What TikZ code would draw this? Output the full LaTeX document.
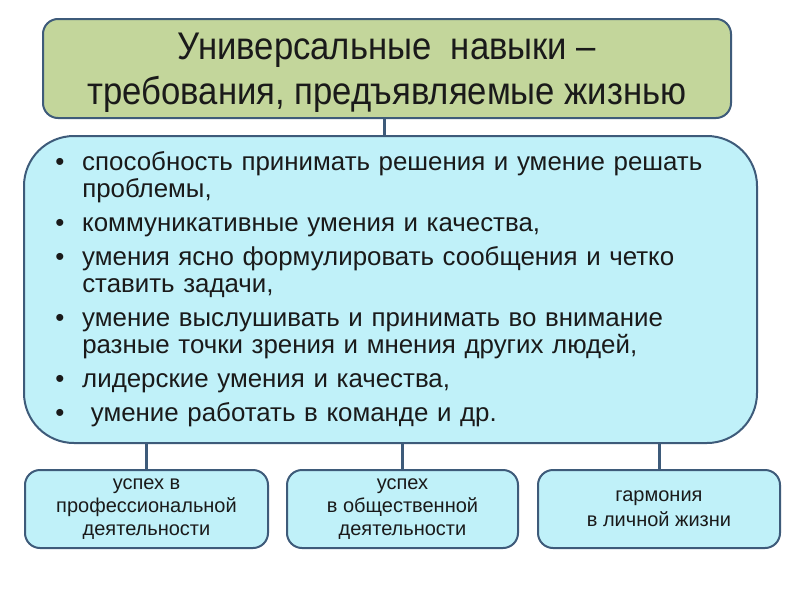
\documentclass[tikz,border=0pt]{standalone}
\usepackage{fontspec}
\setmainfont{Liberation Sans}
\newfontfamily\titlefont[FakeStretch=0.9]{Liberation Sans}
\newlength\pxu
\setlength\pxu{0.75pt}
\definecolor{bordc}{HTML}{3E5B7A}
\definecolor{greenf}{HTML}{C3D69B}
\definecolor{cyanf}{HTML}{C0F1F9}
\definecolor{txtc}{HTML}{1A1A1A}
\newcommand\bitem[1]{\par\noindent\hangindent=27\pxu\hangafter=1\makebox[27\pxu][l]{•}#1\par\vspace{7\pxu}}
\tikzset{
  topbox/.style={draw=bordc, line width=2\pxu, fill=greenf, rounded corners=15\pxu, inner sep=0pt, text=txtc, align=center},
  bigbox/.style={draw=bordc, line width=2\pxu, fill=cyanf, rounded corners=50\pxu, inner sep=0pt},
  resbox/.style={draw=bordc, line width=2\pxu, fill=cyanf, rounded corners=15\pxu, inner sep=0pt, text=txtc, align=center, minimum height=78\pxu, font=\fontsize{15}{17.25}\selectfont},
  conn/.style={draw=bordc, line width=3\pxu},
  bodytext/.style={inner sep=0pt, text=txtc, align=left, text width=675\pxu, anchor=north west}
}
\begin{document}
\begin{tikzpicture}[x=0.75pt,y=-0.75pt]
\useasboundingbox (0,0) rectangle (800,600);
\fill[white] (0,0) rectangle (800,600);
\node[topbox, minimum width=688\pxu, minimum height=99\pxu] (top) at (387,68.5) {};
\node[inner sep=0pt, text=txtc, align=center, font=\titlefont\fontsize{28.9}{33.75}\selectfont] (title) at (387,73) {Универсальные\ \ навыки –\\требования, предъявляемые жизнью};
\node[bigbox, minimum width=733\pxu, minimum height=307\pxu] (big) at (390.5,289.5) {};
\node[resbox, minimum width=243\pxu] (r1) at (146.5,509) {успех в\\профессиональной\\деятельности};
\node[resbox, minimum width=231\pxu] (r2) at (402.5,509) {успех\\в общественной\\деятельности};
\node[resbox, minimum width=242\pxu, font=\fontsize{15}{18.75}\selectfont] (r3) at (659,509) {гармония\\в личной жизни};
\node[bodytext, font=\fontsize{19.4}{20.25}\selectfont] (list) at (55,143) {%
\bitem{способность принимать решения и умение решать проблемы,}
\bitem{коммуникативные умения и качества,}
\bitem{умения ясно формулировать сообщения и четко ставить задачи,}
\bitem{умение выслушивать и принимать во внимание разные точки зрения и мнения других людей,}
\bitem{лидерские умения и качества,}
\bitem{\ умение работать в команде и др.}};
\draw[conn] (top.south -| 384,0) -- (big.north -| 384,0);
\draw[conn] (big.south -| r1.north) -- (r1.north);
\draw[conn] (big.south -| r2.north) -- (r2.north);
\draw[conn] (big.south -| r3.north) -- (r3.north);
\end{tikzpicture}
\end{document}
